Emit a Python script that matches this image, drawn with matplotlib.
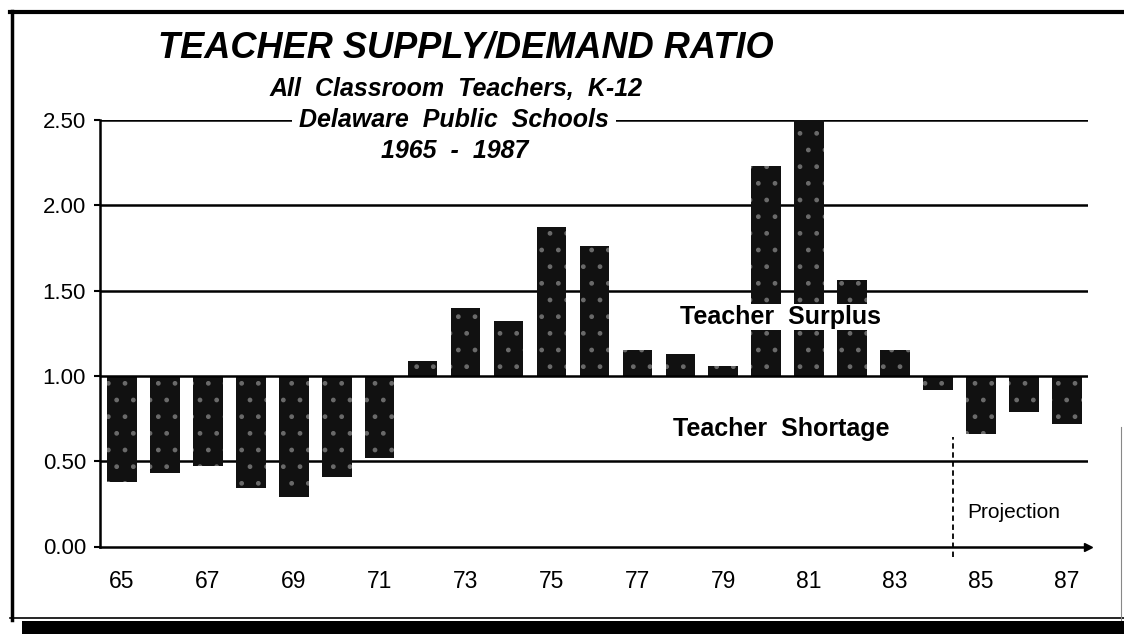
import matplotlib
matplotlib.use("Agg")
import matplotlib.pyplot as plt
from matplotlib.lines import Line2D
from matplotlib.patches import Rectangle

# data
years = list(range(65, 88))
ratio = [0.38, 0.43, 0.47, 0.34, 0.29, 0.41, 0.52, 1.09, 1.40, 1.32, 1.87, 1.76,
         1.15, 1.13, 1.06, 2.23, 2.50, 1.56, 1.15, 0.92, 0.66, 0.79, 0.72]
xtick_years = years[::2]
yticks = [0.0, 0.5, 1.0, 1.5, 2.0, 2.5]

plt.rcParams["font.family"] = ["Liberation Sans", "DejaVu Sans"]
plt.rcParams["hatch.color"] = "#6a6a6a"
plt.rcParams["hatch.linewidth"] = 1.0

W, H = 1124, 634
fig = plt.figure(figsize=(W / 100, H / 100), dpi=100)


def px(x, y):
    return x / W, 1 - y / H


ax = fig.add_axes([100 / W, 1 - 546.5 / H, 988 / W, 426.5 / H])
ax.set_xlim(64.49, 87.49)
ax.set_ylim(0, 2.5)

# gridlines
for v in yticks[1:]:
    ax.axhline(v, color="black", lw=1.8, zorder=3 if v == 1.0 else 1)

# bars grow from the 1.00 baseline
heights = [r - 1.0 for r in ratio]
ax.bar(years, heights, bottom=1.0, width=0.69, color="#111111",
       linewidth=0, hatch=".", zorder=2)

for s in ["top", "right"]:
    ax.spines[s].set_visible(False)
for s in ["left", "bottom"]:
    ax.spines[s].set_linewidth(1.8)
ax.plot(1.0, 0, marker=">", color="black", markersize=6,
        transform=ax.get_yaxis_transform(), clip_on=False)

ax.set_yticks(yticks)
ax.set_yticklabels([f"{v:.2f}" for v in yticks], fontsize=16)
ax.set_xticks(xtick_years)
ax.set_xticklabels([str(y) for y in xtick_years], fontsize=16.5)
ax.tick_params(axis="y", direction="out", length=4, width=1.5, pad=6)
ax.tick_params(axis="x", length=0, pad=17)

# annotations
ax.text(80.32, 1.345, "Teacher  Surplus", fontsize=18, fontweight="bold",
        ha="center", va="center", zorder=5,
        bbox=dict(boxstyle="square,pad=0.05", fc="white", ec="none"))
ax.text(80.35, 0.689, "Teacher  Shortage", fontsize=18, fontweight="bold",
        ha="center", va="center", zorder=5)
ax.plot([84.35, 84.35], [-0.06, 0.64], color="black", lw=1.3,
        ls=(0, (3, 2)), clip_on=False, zorder=4)
ax.text(84.67, 0.20, "Projection", fontsize=15, ha="left", va="center")

# titles
fig.text(*px(466, 58), "TEACHER SUPPLY/DEMAND RATIO", fontsize=26,
         fontweight="bold", fontstyle="italic", ha="center", va="baseline")
fig.text(*px(456, 96), "All  Classroom  Teachers,  K-12", fontsize=18,
         fontweight="bold", fontstyle="italic", ha="center", va="baseline")
fig.text(*px(454, 127), "Delaware  Public  Schools", fontsize=18,
         fontweight="bold", fontstyle="italic", ha="center", va="baseline",
         bbox=dict(boxstyle="square,pad=0.3", fc="white", ec="none"))
fig.text(*px(455, 158), "1965  -  1987", fontsize=18,
         fontweight="bold", fontstyle="italic", ha="center", va="baseline")

# scanned page frame
fig.add_artist(Line2D([px(10, 0)[0], 1], [px(0, 12)[1]] * 2, color="black", lw=3))
fig.add_artist(Line2D([px(12, 0)[0]] * 2, [px(0, 11)[1], px(0, 620)[1]], color="black", lw=2.5))
fig.add_artist(Line2D([px(10, 0)[0], 1], [px(0, 618)[1]] * 2, color="black", lw=1.2))
fig.add_artist(Line2D([px(1121, 0)[0]] * 2, [px(0, 427)[1], px(0, 620)[1]], color="#888888", lw=0.8))
fig.add_artist(Rectangle(px(22, 634), (W - 22) / W, 13 / H, transform=fig.transFigure,
                         color="black", lw=0))

fig.savefig("out.png", dpi=100)
